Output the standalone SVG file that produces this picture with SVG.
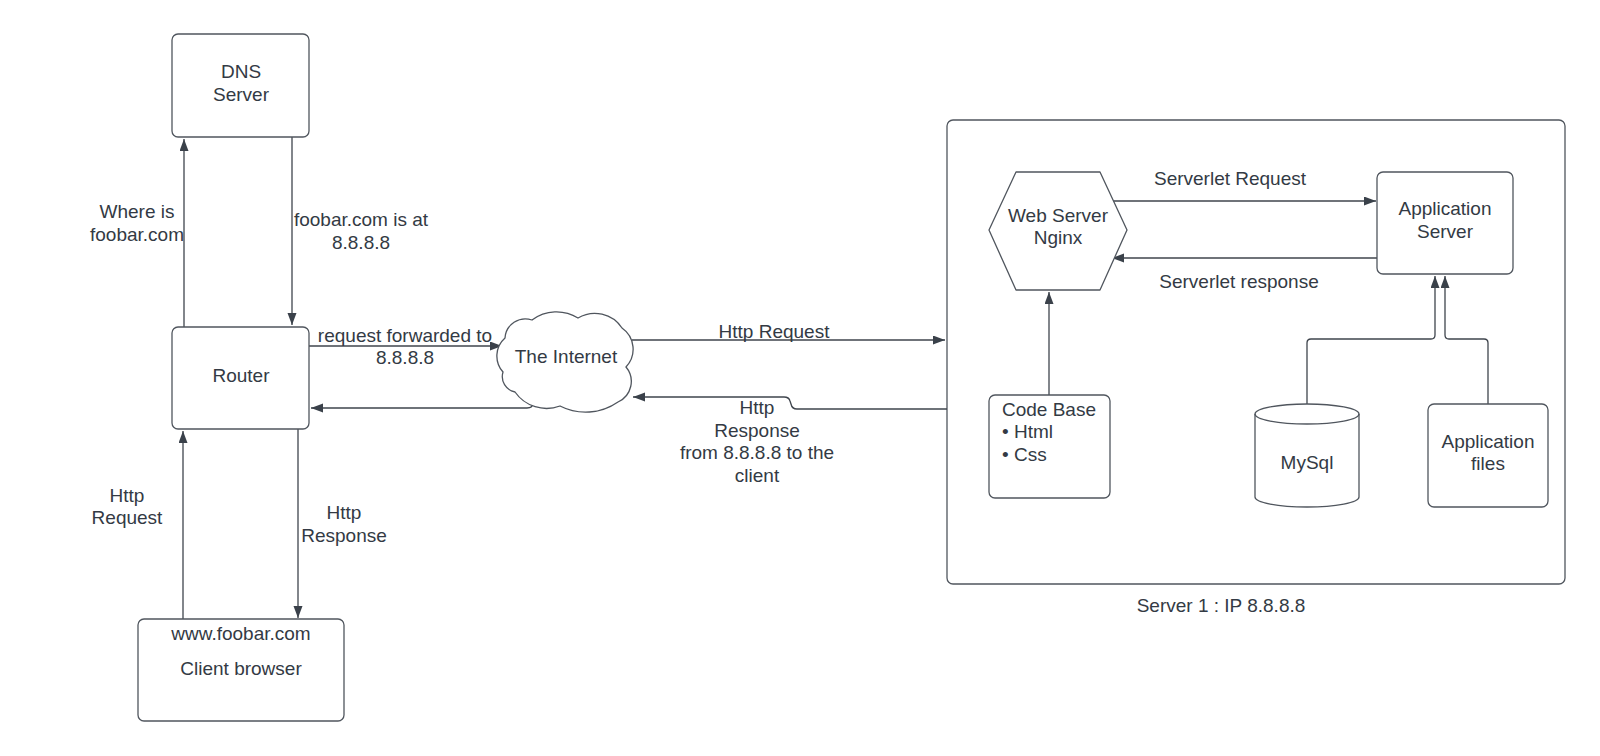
<svg xmlns="http://www.w3.org/2000/svg" width="1600" height="756" viewBox="0 0 1600 756">
<style>
  .box{fill:#ffffff;stroke:#50565e;stroke-width:1.3}
  .frame{fill:none;stroke:#50565e;stroke-width:1.3}
  .ln{fill:none;stroke:#3f454d;stroke-width:1.3}
  text{font-family:"Liberation Sans",Arial,sans-serif;font-size:19px;fill:#333a44}
  .c{text-anchor:middle}
</style>
<defs>
  <marker id="arr" markerUnits="userSpaceOnUse" markerWidth="13" markerHeight="10" refX="12" refY="4.5" orient="auto">
    <path d="M0,0 L12,4.5 L0,9 z" fill="#3a414a"/>
  </marker>
</defs>
<rect width="1600" height="756" fill="#ffffff"/>

<g id="server1">
  <rect class="frame" x="947" y="120" width="618" height="464" rx="6"/>
  <text class="c" x="1221" y="612">Server 1 : IP 8.8.8.8</text>
</g>

<g id="connectors">
  <path class="ln" d="M184,327 V139" marker-end="url(#arr)"/>
  <path class="ln" d="M292,137 V325" marker-end="url(#arr)"/>
  <path class="ln" d="M309,346 H502" marker-end="url(#arr)"/>
  <path class="ln" d="M533,403 Q533,408 527,408 H311" marker-end="url(#arr)"/>
  <path class="ln" d="M183,619 V431" marker-end="url(#arr)"/>
  <path class="ln" d="M298,429 V618" marker-end="url(#arr)"/>
  <path class="ln" d="M632,340 H945" marker-end="url(#arr)"/>
  <path class="ln" d="M947,409 H797 Q792,409 791,404 L790,401 Q789,397 784,397 H633" marker-end="url(#arr)"/>
  <path class="ln" d="M1110,201 H1376" marker-end="url(#arr)"/>
  <path class="ln" d="M1377,258 H1112" marker-end="url(#arr)"/>
  <path class="ln" d="M1049,395 V292" marker-end="url(#arr)"/>
  <path class="ln" d="M1307,404 V343 Q1307,339 1311,339 H1431 Q1435,339 1435,335 V276" marker-end="url(#arr)"/>
  <path class="ln" d="M1488,404 V343 Q1488,339 1484,339 H1449 Q1445,339 1445,335 V276" marker-end="url(#arr)"/>
</g>

<g id="dns">
  <rect class="box" x="172" y="34" width="137" height="103" rx="6"/>
  <text class="c" x="241" y="78">DNS</text>
  <text class="c" x="241" y="101">Server</text>
</g>
<g id="router">
  <rect class="box" x="172" y="327" width="137" height="102" rx="6"/>
  <text class="c" x="241" y="382">Router</text>
</g>
<g id="client">
  <rect class="box" x="138" y="619" width="206" height="102" rx="6"/>
  <text class="c" x="241" y="640">www.foobar.com</text>
  <text class="c" x="241" y="675">Client browser</text>
</g>
<g id="internet">
  <path class="box" d="M505,338 A20.4,20.4 0 0 1 532,320 A41,41 0 0 1 578,318 A32.6,32.6 0 0 1 622,328 A25.8,25.8 0 0 1 626,367 A22.5,22.5 0 0 1 618,402 A56.6,56.6 0 0 1 560,406 A38.5,38.5 0 0 1 515,392 A15.7,15.7 0 0 1 503,372 A24,24 0 0 1 505,338 Z"/>
  <text class="c" x="566" y="363">The Internet</text>
</g>
<g id="webserver">
  <path class="box" d="M989,230 L1016,172 H1100 L1127,230 L1100,290 H1016 Z" stroke-linejoin="round"/>
  <text class="c" x="1058" y="222">Web Server</text>
  <text class="c" x="1058" y="244">Nginx</text>
</g>
<g id="appserver">
  <rect class="box" x="1377" y="172" width="136" height="102" rx="6"/>
  <text class="c" x="1445" y="215">Application</text>
  <text class="c" x="1445" y="238">Server</text>
</g>
<g id="codebase">
  <rect class="box" x="989" y="395" width="121" height="103" rx="6"/>
  <text x="1002" y="416">Code Base</text>
  <text x="1002" y="438">• Html</text>
  <text x="1002" y="461">• Css</text>
</g>
<g id="mysql">
  <path class="box" d="M1255,414 A52,10 0 0 1 1359,414 V497 A52,10 0 0 1 1255,497 Z"/>
  <path class="frame" d="M1255,414 A52,10 0 0 0 1359,414"/>
  <text class="c" x="1307" y="469">MySql</text>
</g>
<g id="appfiles">
  <rect class="box" x="1428" y="404" width="120" height="103" rx="6"/>
  <text class="c" x="1488" y="448">Application</text>
  <text class="c" x="1488" y="470">files</text>
</g>

<g id="labels">
  <text class="c" x="137" y="218">Where is</text>
  <text class="c" x="137" y="241">foobar.com</text>
  <text class="c" x="361" y="226">foobar.com is at</text>
  <text class="c" x="361" y="249">8.8.8.8</text>
  <text class="c" x="405" y="342">request forwarded to</text>
  <text class="c" x="405" y="364">8.8.8.8</text>
  <text class="c" x="774" y="338">Http Request</text>
  <text class="c" x="757" y="414">Http</text>
  <text class="c" x="757" y="437">Response</text>
  <text class="c" x="757" y="459">from 8.8.8.8 to the</text>
  <text class="c" x="757" y="482">client</text>
  <text class="c" x="127" y="502">Http</text>
  <text class="c" x="127" y="524">Request</text>
  <text class="c" x="344" y="519">Http</text>
  <text class="c" x="344" y="542">Response</text>
  <text class="c" x="1230" y="185">Serverlet Request</text>
  <text class="c" x="1239" y="288">Serverlet response</text>
</g>
</svg>
